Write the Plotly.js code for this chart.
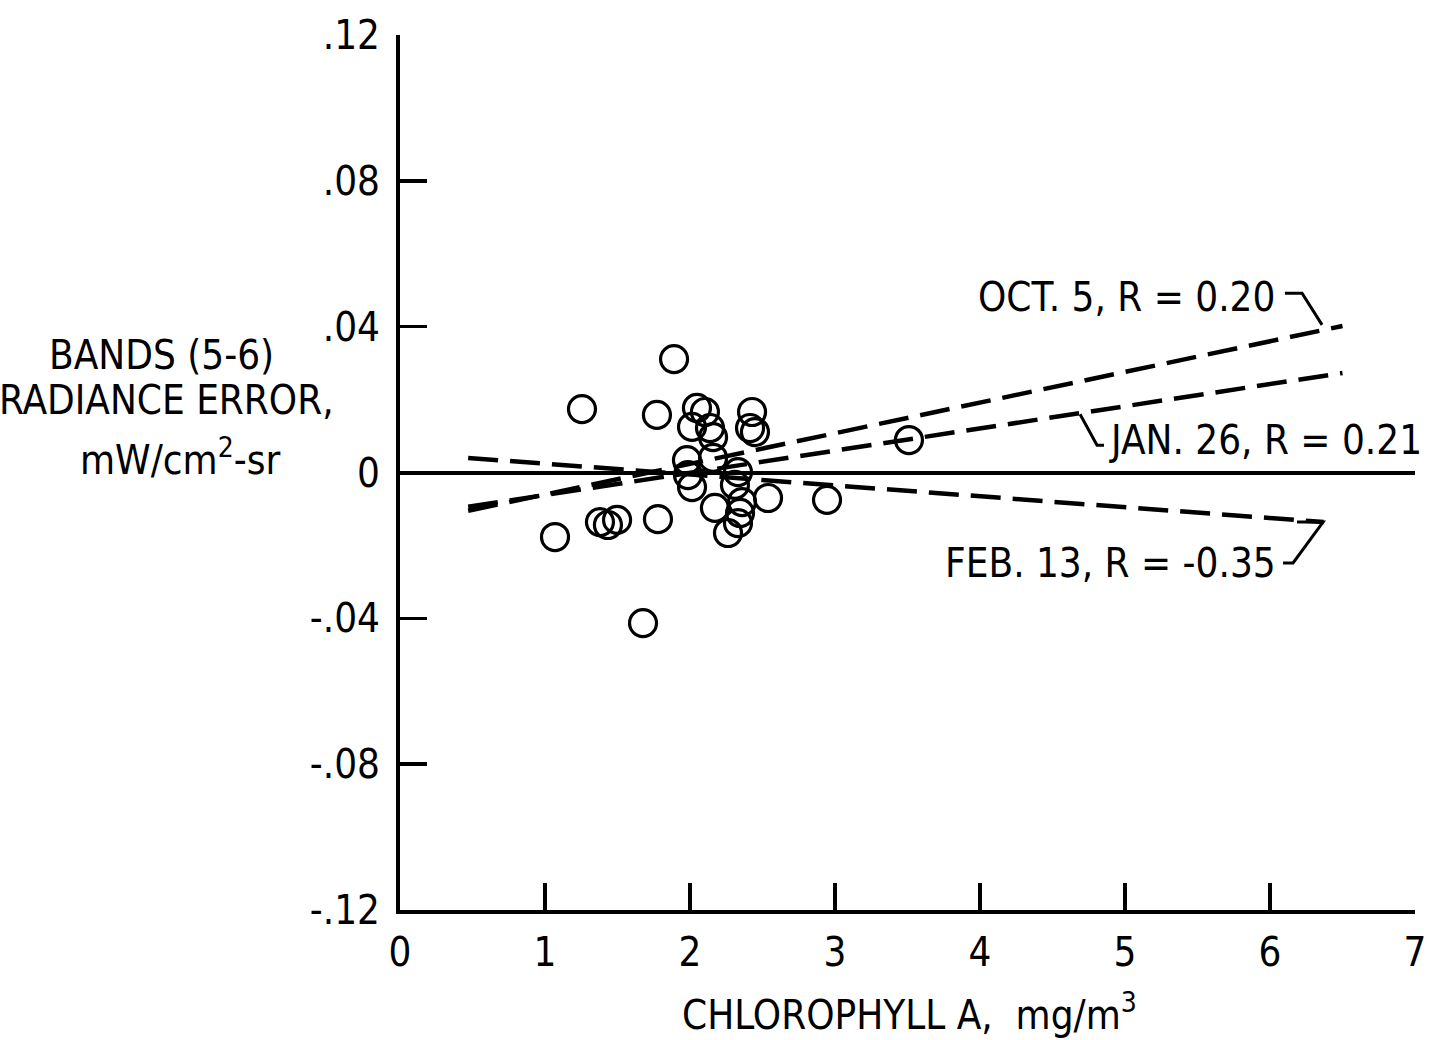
<!DOCTYPE html>
<html>
<head>
<meta charset="utf-8">
<script src="https://cdn.plot.ly/plotly-3.0.1.min.js"></script>
<style>
  html, body { margin: 0; padding: 0; background: #ffffff; }
  #chart { width: 1430px; height: 1040px; }
</style>
</head>
<body>
<div id="chart"></div>
<script>
// ---- Data ----
const chlorophyll = [1.890, 1.255, 1.772, 2.048, 2.103, 2.014, 2.138, 2.159, 2.428, 2.414,
                     2.448, 1.979, 2.159, 2.331, 1.986, 2.014, 2.310, 2.172, 2.359, 2.345,
                     2.331, 2.262, 2.538, 2.945, 3.510, 1.069, 1.379, 1.434, 1.497, 1.779,
                     1.676];
const radianceError = [0.0311, 0.0174, 0.0158, 0.0177, 0.0166, 0.0125, 0.0122, 0.0097, 0.0166, 0.0122,
                       0.0111, 0.0034, 0.0040, 0.0001, -0.0007, -0.0040, -0.0034, -0.0097, -0.0081, -0.0111,
                       -0.0139, -0.0166, -0.0070, -0.0075, 0.0089, -0.0177, -0.0136, -0.0144, -0.0130, -0.0128,
                       -0.0413];

// regression lines (end points)
const octX = [0.47, 6.50];
const octY = [-0.0105, 0.0402];
const janX = [0.47, 6.50];
const janY = [-0.0094, 0.0273];
const febX = [0.47, 6.37];
const febY = [0.0040, -0.0136];

const lineLabels = ["OCT. 5, R = 0.20", "JAN. 26, R = 0.21", "FEB. 13, R = -0.35"];

const xTickVals = [0, 1, 2, 3, 4, 5, 6, 7];
const xTickText = ["0", "1", "2", "3", "4", "5", "6", "7"];
const yTickVals = [0.12, 0.08, 0.04, 0, -0.04, -0.08, -0.12];
const yTickText = [".12", ".08", ".04", "0", "-.04", "-.08", "-.12"];

const yTitleLines = ["BANDS (5-6)", "RADIANCE ERROR,", "mW/cm<sup>2</sup>-sr"];
const xTitle = "CHLOROPHYLL A,  mg/m<sup>3</sup>";

// leader lines from labels to the regression lines
const octLeaderX = [6.103, 6.221, 6.359];
const octLeaderY = [0.0492, 0.0492, 0.0405];
const janLeaderX = [4.690, 4.807, 4.855];
const janLeaderY = [0.0160, 0.0075, 0.0075];
const febLeaderX = [6.186, 6.366, 6.159, 6.090];
const febLeaderY = [-0.0136, -0.0136, -0.0248, -0.0248];

// ---- Drawing ----
const FONT = "Liberation Sans Narrow, DejaVu Sans Condensed, Arial Narrow, sans-serif";
const dashStyle = "30px,12px";

function pathFrom(xs, ys) {
  return xs.map((x, i) => (i === 0 ? "M" : "L") + x + "," + ys[i]).join(" ");
}

const traces = [
  { x: octX, y: octY, mode: "lines", line: { color: "#000", width: 4.5, dash: dashStyle }, hoverinfo: "skip" },
  { x: janX, y: janY, mode: "lines", line: { color: "#000", width: 4.5, dash: dashStyle }, hoverinfo: "skip" },
  { x: febX, y: febY, mode: "lines", line: { color: "#000", width: 4.5, dash: dashStyle }, hoverinfo: "skip" },
  {
    x: chlorophyll, y: radianceError, mode: "markers",
    marker: { symbol: "circle-open", size: 27, color: "#000", line: { color: "#000", width: 3.2 } },
    hoverinfo: "skip"
  }
];

const annotations = [
  { x: 6.048, y: 0.0481, xref: "x", yref: "y", text: lineLabels[0], showarrow: false,
    xanchor: "right", yanchor: "middle", font: { family: FONT, size: 40, color: "#000" } },
  { x: 4.876, y: 0.0089, xref: "x", yref: "y", text: lineLabels[1], showarrow: false,
    xanchor: "left", yanchor: "middle", font: { family: FONT, size: 40, color: "#000" } },
  { x: 6.055, y: -0.0248, xref: "x", yref: "y", text: lineLabels[2], showarrow: false,
    xanchor: "right", yanchor: "middle", font: { family: FONT, size: 40, color: "#000" } },
  { x: -0.2345, y: 0.634, xref: "paper", yref: "paper", text: yTitleLines[0], showarrow: false,
    xanchor: "center", yanchor: "middle", font: { family: FONT, size: 40, color: "#000" } },
  { x: -0.2296, y: 0.583, xref: "paper", yref: "paper", text: yTitleLines[1], showarrow: false,
    xanchor: "center", yanchor: "middle", font: { family: FONT, size: 40, color: "#000" } },
  { x: -0.2167, y: 0.518, xref: "paper", yref: "paper", text: yTitleLines[2], showarrow: false,
    xanchor: "center", yanchor: "middle", font: { family: FONT, size: 40, color: "#000" } },
  { x: 0.502, y: -0.117, xref: "paper", yref: "paper", text: xTitle, showarrow: false,
    xanchor: "center", yanchor: "middle", font: { family: FONT, size: 40, color: "#000" } }
];

const shapes = [
  { type: "path", xref: "x", yref: "y", path: pathFrom(octLeaderX, octLeaderY), line: { color: "#000", width: 3 } },
  { type: "path", xref: "x", yref: "y", path: pathFrom(janLeaderX, janLeaderY), line: { color: "#000", width: 3 } },
  { type: "path", xref: "x", yref: "y", path: pathFrom(febLeaderX, febLeaderY), line: { color: "#000", width: 3 } }
];

const layout = {
  width: 1430, height: 1040,
  margin: { l: 400, r: 15, t: 35, b: 130 },
  paper_bgcolor: "#ffffff", plot_bgcolor: "#ffffff",
  showlegend: false,
  font: { family: FONT, size: 40, color: "#000" },
  xaxis: {
    range: [0, 7], tickmode: "array", tickvals: xTickVals, ticktext: xTickText,
    ticks: "inside", ticklen: 27, tickwidth: 3.5, tickcolor: "#000",
    showline: true, linewidth: 4, linecolor: "#000", mirror: false,
    showgrid: false, zeroline: false,
    tickfont: { family: FONT, size: 40, color: "#000" }, ticklabelstandoff: 4
  },
  yaxis: {
    range: [-0.12, 0.12], tickmode: "array", tickvals: yTickVals, ticktext: yTickText,
    ticks: "inside", ticklen: 27, tickwidth: 3.5, tickcolor: "#000",
    showline: true, linewidth: 4, linecolor: "#000", mirror: false,
    showgrid: false, zeroline: true, zerolinecolor: "#000", zerolinewidth: 4,
    tickfont: { family: FONT, size: 40, color: "#000" }, ticklabelstandoff: 8
  },
  annotations: annotations,
  shapes: shapes
};

Plotly.newPlot("chart", traces, layout, { staticPlot: true, displayModeBar: false });
</script>
</body>
</html>
